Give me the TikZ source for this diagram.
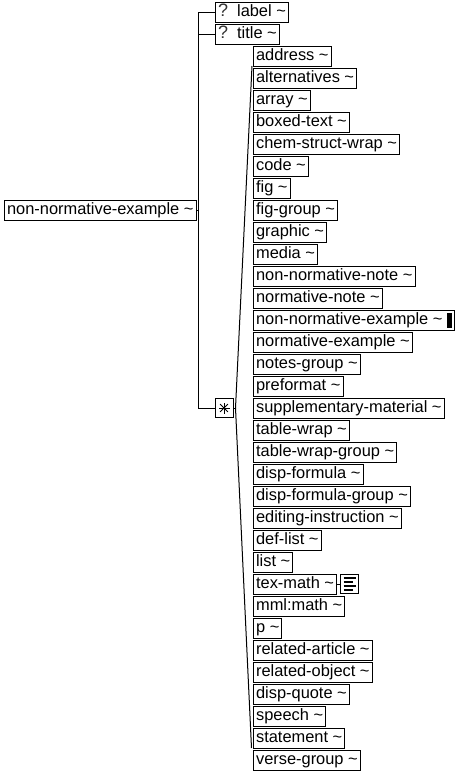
\documentclass[tikz,border=0pt]{standalone}
\usepackage{fontspec}
\setmainfont{Liberation Sans}
\usetikzlibrary{calc}
\begin{document}
\begin{tikzpicture}[x=1pt,y=-1pt,
  el/.style={draw, line width=1pt, anchor=west, minimum height=20pt, inner xsep=2.6pt, inner ysep=0pt,
    font=\fontsize{16.4}{18}\selectfont, text height=11.8pt, text depth=3.6pt},
  conn/.style={line width=1pt},
  iconbox/.style={draw, line width=1pt, minimum width=18pt, minimum height=19pt, inner sep=0pt}]
\useasboundingbox (0,0) rectangle (457,771);
% root
\node[el] (main) at (4,210) {non-normative-example \textasciitilde};
% optional
\node[el] (label) at (215,12) {{\fontsize{18}{18}\selectfont\textcolor{black!80}{?}}\hspace{9pt}label \textasciitilde};
\node[el] (title) at (215,34) {{\fontsize{18}{18}\selectfont\textcolor{black!80}{?}}\hspace{9pt}title \textasciitilde};
% star (choice)
\node[iconbox] (star) at (224,408) {};
\foreach \a in {0,45,90,135} {
  \draw[line width=0.8pt] ($(star.center)+(\a:5.5)$) -- ($(star.center)+(\a+180:5.5)$);
}
% children
\node[el] (c0) at (253,56) {address \textasciitilde};
\node[el] (c1) at (253,78) {alternatives \textasciitilde};
\node[el] (c2) at (253,100) {array \textasciitilde};
\node[el] (c3) at (253,122) {boxed-text \textasciitilde};
\node[el] (c4) at (253,144) {chem-struct-wrap \textasciitilde};
\node[el] (c5) at (253,166) {code \textasciitilde};
\node[el] (c6) at (253,188) {fig \textasciitilde};
\node[el] (c7) at (253,210) {fig-group \textasciitilde};
\node[el] (c8) at (253,232) {graphic \textasciitilde};
\node[el] (c9) at (253,254) {media \textasciitilde};
\node[el] (c10) at (253,276) {non-normative-note \textasciitilde};
\node[el] (c11) at (253,298) {normative-note \textasciitilde};
\node[el] (c12) at (253,320) {non-normative-example \textasciitilde\hspace{4pt}\raisebox{-3.5pt}{\rule{5pt}{15pt}}};
\node[el] (c13) at (253,342) {normative-example \textasciitilde};
\node[el] (c14) at (253,364) {notes-group \textasciitilde};
\node[el] (c15) at (253,386) {preformat \textasciitilde};
\node[el] (c16) at (253,408) {supplementary-material \textasciitilde};
\node[el] (c17) at (253,430) {table-wrap \textasciitilde};
\node[el] (c18) at (253,452) {table-wrap-group \textasciitilde};
\node[el] (c19) at (253,474) {disp-formula \textasciitilde};
\node[el] (c20) at (253,496) {disp-formula-group \textasciitilde};
\node[el] (c21) at (253,518) {editing-instruction \textasciitilde};
\node[el] (c22) at (253,540) {def-list \textasciitilde};
\node[el] (c23) at (253,562) {list \textasciitilde};
\node[el] (c24) at (253,584) {tex-math \textasciitilde};
\node[el] (c25) at (253,606) {mml:math \textasciitilde};
\node[el] (c26) at (253,628) {p \textasciitilde};
\node[el] (c27) at (253,650) {related-article \textasciitilde};
\node[el] (c28) at (253,672) {related-object \textasciitilde};
\node[el] (c29) at (253,694) {disp-quote \textasciitilde};
\node[el] (c30) at (253,716) {speech \textasciitilde};
\node[el] (c31) at (253,738) {statement \textasciitilde};
\node[el] (c32) at (253,760) {verse-group \textasciitilde};
% text icon next to tex-math
\node[iconbox, anchor=west] (tmi) at (340,584) {};
\draw[line width=2.2pt] ($(tmi.center)+(-6,-6)$) -- ++(12,0);
\draw[line width=2.2pt] ($(tmi.center)+(-6,-2)$) -- ++(9,0);
\draw[line width=2.2pt] ($(tmi.center)+(-6,2)$) -- ++(12,0);
\draw[line width=2.2pt] ($(tmi.center)+(-6,6)$) -- ++(9,0);
\draw[conn] (c24.east) -- (tmi.west);
% connectors
\coordinate (spTop) at (198,12);
\coordinate (spBot) at (198,408);
\draw[conn] (spTop) -- (spBot);
\draw[conn] (main.east) -- (main.east -| spTop);
\draw[conn] (spTop) -- (label.west);
\draw[conn] (title.west -| spTop) -- (title.west);
\draw[conn] (spBot) -- (star.west);
\coordinate (chTop) at (252,66);
\coordinate (chMid) at (235.5,408);
\coordinate (chBot) at (251.5,748);
\draw[conn] (star.east) -- (chMid);
\draw[conn] (chTop) -- (chMid) -- (chBot);
\end{tikzpicture}
\end{document}
